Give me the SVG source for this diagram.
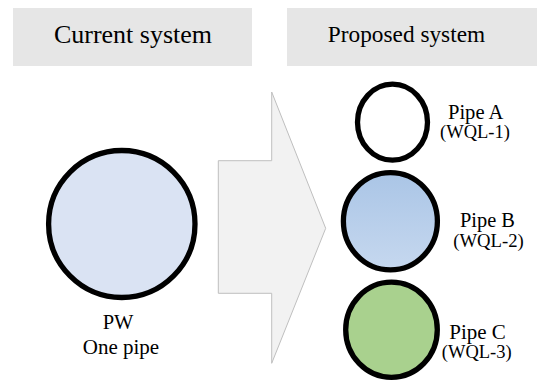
<svg xmlns="http://www.w3.org/2000/svg" width="537" height="383" viewBox="0 0 537 383">
  <defs>
    <linearGradient id="gradB" x1="0" y1="0" x2="0" y2="1">
      <stop offset="0" stop-color="#aac5e6"/>
      <stop offset="1" stop-color="#c6d8ef"/>
    </linearGradient>
  </defs>
  <style>
    .hdr { fill: #e6e6e6; }
    text { font-family: 'Liberation Serif', 'Times New Roman', serif; fill: #000000; text-anchor: middle; }
    .pipe { stroke: #000000; stroke-width: 5.3; }
  </style>
  <rect width="537" height="383" fill="#ffffff"/>

  <g id="header-current">
    <rect class="hdr" x="13" y="8" width="239" height="58"/>
    <text x="133" y="43" font-size="26">Current system</text>
  </g>
  <g id="header-proposed">
    <rect class="hdr" x="287" y="8" width="250" height="58"/>
    <text x="406.5" y="42" font-size="23.3">Proposed system</text>
  </g>

  <g id="connectors">
    <polygon points="271.7,92 271.7,160.7 218.3,160.7 218.3,293.3 271.7,293.3 271.7,363.3 325.7,228.3" fill="#f2f2f2" stroke="#bfbfbf" stroke-width="1"/>
  </g>

  <g id="pw">
    <ellipse class="pipe" cx="121.8" cy="224" rx="73.2" ry="73.5" fill="#dae3f3"/>
    <text x="118" y="329" font-size="20.5">PW</text>
    <text x="121" y="354.3" font-size="21">One pipe</text>
  </g>

  <g id="pipe-a">
    <ellipse class="pipe" cx="392.5" cy="122.2" rx="35" ry="38" fill="#ffffff"/>
    <text x="475.7" y="119" font-size="20.6">Pipe A</text>
    <text x="475" y="138.3" font-size="18.5">(WQL-1)</text>
  </g>

  <g id="pipe-b">
    <ellipse class="pipe" cx="390.4" cy="221.3" rx="47" ry="48.6" fill="url(#gradB)"/>
    <text x="487.5" y="226.7" font-size="20.4">Pipe B</text>
    <text x="488.5" y="246.7" font-size="18.7">(WQL-2)</text>
  </g>

  <g id="pipe-c">
    <ellipse class="pipe" cx="391.5" cy="329.7" rx="45.8" ry="47.6" fill="#a9d18e"/>
    <text x="477.5" y="338.5" font-size="21">Pipe C</text>
    <text x="476.7" y="357.5" font-size="18.5">(WQL-3)</text>
  </g>
</svg>
